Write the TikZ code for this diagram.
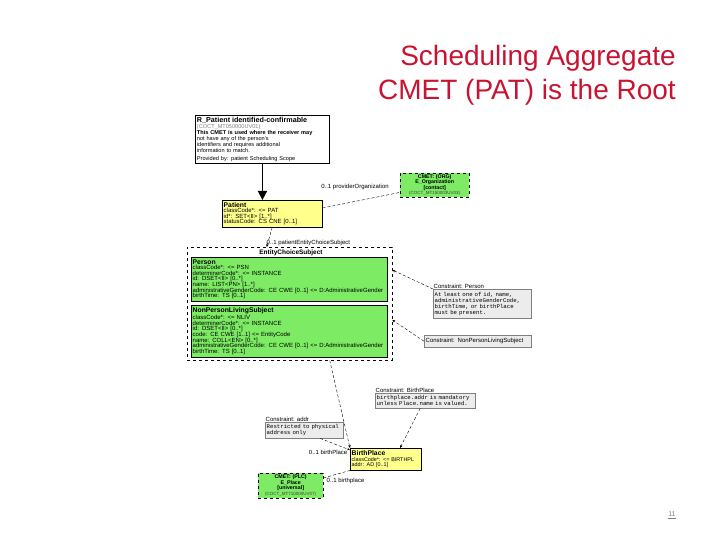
\documentclass[tikz,border=0pt]{standalone}
\usepackage{fontspec}
\setmainfont{Liberation Sans}
\setmonofont{Liberation Mono}
\usetikzlibrary{arrows.meta,shadows}

\definecolor{titlered}{RGB}{200,20,50}
\definecolor{rimgreen}{RGB}{125,235,100}
\definecolor{rimyellow}{RGB}{255,255,140}
\definecolor{notegray}{RGB}{236,236,236}

\newcommand{\attrfont}{\fontsize{6}{5.6}\selectfont}
\newcommand{\headfont}{\fontsize{6.8}{7.6}\selectfont\bfseries}
\newcommand{\notefont}{\fontsize{5.7}{6}\selectfont\ttfamily}
\newcommand{\labelfont}{\fontsize{6}{7}\selectfont}
\newcommand{\boxtitle}[1]{{\headfont #1}}

\tikzset{
  box/.style={draw, anchor=north west, align=left, inner sep=1.5pt, font=\attrfont},
  rootbox/.style={box, fill=white, line width=0.9pt},
  classbox/.style={box, fill=rimyellow, line width=0.4pt},
  entitybox/.style={box, fill=rimgreen, line width=0.4pt},
  cmetbox/.style={box, fill=rimgreen, dashed, align=center, font=\fontsize{5.3}{5.5}\selectfont, inner sep=1pt},
  choicebox/.style={draw, dashed, anchor=north west, inner sep=0pt},
  notebox/.style={box, fill=notegray, draw=gray, font=\notefont,
    drop shadow={shadow xshift=1pt, shadow yshift=-1pt, fill=gray!70}},
  notehead/.style={anchor=south west, inner sep=0.5pt, font=\labelfont},
  assoc/.style={densely dashed, line width=0.4pt, -{Stealth[length=3pt,width=2.6pt]}},
  rolelabel/.style={font=\labelfont, inner sep=0.5pt},
  slidetitle/.style={font=\fontsize{28}{34}\selectfont, text=titlered, inner sep=0pt, anchor=base east}
}

\begin{document}
\begin{tikzpicture}[x=1pt,y=-1pt]
\useasboundingbox (0,0) rectangle (720,540);

% title
\node[slidetitle] (title1) at (676,66) {Scheduling Aggregate};
\node[slidetitle] (title2) at (676,100) {CMET (PAT) is the Root};

% root class and patient
\node[rootbox, font=\fontsize{5.6}{5.9}\selectfont, text width=131pt, minimum height=48pt] (root) at (195,115)
  {{\fontsize{7.2}{7.9}\selectfont\bfseries R\_Patient identified-confirmable}\\
   {\color{gray}(COCT\_MT050000UV01)}\\
   {\bfseries This CMET is used where the receiver may}\\
   not have any of the person's\\
   identifiers and requires additional\\
   information to match.\\[2pt]
   Provided by: patient Scheduling Scope};
\node[classbox, text width=97pt, minimum height=27pt] (patient) at (222,200)
  {\boxtitle{Patient}\\ classCode*: <= PAT\\ id*: SET<II> [1..*]\\ statusCode: CS CNE [0..1]};
\node[cmetbox, text width=67pt, minimum height=24pt] (eorg) at (400,173)
  {\textbf{CMET: (ORG)}\\ \textbf{E\_Organization}\\ \textbf{[contact]}\\ {\fontsize{4.5}{5}\selectfont\color{darkgray}(COCT\_MT150003UV03)}};

% entity choice
\node[choicebox, minimum width=205pt, minimum height=113pt] (choice) at (187,247) {};
\node[font=\fontsize{6.5}{7}\selectfont\bfseries, inner sep=0pt] (choicename) at (291,253) {EntityChoiceSubject};
\node[entitybox, text width=193pt, minimum height=44pt] (person) at (191,257)
  {\boxtitle{Person}\\
   classCode*: <= PSN\\
   determinerCode*: <= INSTANCE\\
   id: DSET<II> [0..*]\\
   name: LIST<PN> [1..*]\\
   administrativeGenderCode: CE CWE [0..1] <= D:AdministrativeGender\\
   birthTime: TS [0..1]};
\node[entitybox, text width=193pt, minimum height=52pt] (npls) at (191,305)
  {\boxtitle{NonPersonLivingSubject}\\
   classCode*: <= NLIV\\
   determinerCode*: <= INSTANCE\\
   id: DSET<II> [0..*]\\
   code: CE CWE [1..1] <= EntityCode\\
   name: COLL<EN> [0..*]\\
   administrativeGenderCode: CE CWE [0..1] <= D:AdministrativeGender\\
   birthTime: TS [0..1]};

% constraints
\node[notehead] (cpersonhead) at (433,289) {Constraint: Person};
\node[notebox, text width=95pt, minimum height=29pt] (cperson) at (433,289)
  {At least one of id, name,\\ administrativeGenderCode,\\ birthTime, or birthPlace\\ must be present.};
\node[notebox, font=\labelfont, text width=104pt, minimum height=12pt] (cnpls) at (424,335)
  {Constraint: NonPersonLivingSubject};
\node[notehead] (cbirthhead) at (375,393) {Constraint: BirthPlace};
\node[notebox, text width=97pt, minimum height=15pt] (cbirth) at (375,393)
  {birthplace.addr is mandatory\\ unless Place.name is valued.};
\node[notehead] (caddrhead) at (265,422) {Constraint: addr};
\node[notebox, text width=75pt, minimum height=16pt] (caddr) at (265,422)
  {Restricted to physical\\ address only};

% birth place
\node[classbox, font=\fontsize{5.4}{5.5}\selectfont, text width=68pt, minimum height=22pt] (bplace) at (350,448)
  {\boxtitle{BirthPlace}\\ classCode*: <= BIRTHPL\\ addr: AD [0..1]};
\node[cmetbox, text width=63pt, minimum height=25pt] (eplace) at (258,473)
  {\textbf{CMET: (PLC)}\\ \textbf{E\_Place}\\ \textbf{[universal]}\\ {\fontsize{4.5}{5}\selectfont\color{darkgray}(COCT\_MT710000UV07)}};

% connectors
\draw[line width=1.6pt, -{Triangle[length=9pt,width=9pt]}] (root.south) -- (root.south |- patient.north);
\draw[densely dashed, line width=0.4pt] ([yshift=-8pt]patient.north east) -- ([yshift=5pt]eorg.south west);
\node[rolelabel] (orglabel) at (355,187) {0..1 providerOrganization};
\draw[assoc] (patient.south) -- ([xshift=-23pt]choice.north);
\node[rolelabel, anchor=west] (choicelabel) at (266,243) {0..1 patientEntityChoiceSubject};
\draw[assoc] (cperson.north west) -- ([yshift=-23pt]choice.north east);
\draw[assoc] (cnpls.west) -- ([yshift=-73pt]choice.north east);
\draw[assoc] ([xshift=40pt]choice.south) -- (bplace.north west);
\node[rolelabel, anchor=east] (bplacelabel) at (348,452) {0..1 birthPlace};
\draw[assoc] ([xshift=-5pt]cbirth.south) -- ([xshift=50pt]bplace.north west);
\draw[assoc] ([xshift=16pt]caddr.south) -- ([yshift=-2pt]bplace.north west);
\draw[densely dashed, line width=0.4pt] ([yshift=-5pt]eplace.north east) -- (bplace.south west);
\node[rolelabel, anchor=west] (eplacelabel) at (326,481) {0..1 birthplace};

% page number
\node[font=\fontsize{7}{8}\selectfont, text=gray] (pagenum) at (672,515) {\underline{11}};
\end{tikzpicture}
\end{document}
